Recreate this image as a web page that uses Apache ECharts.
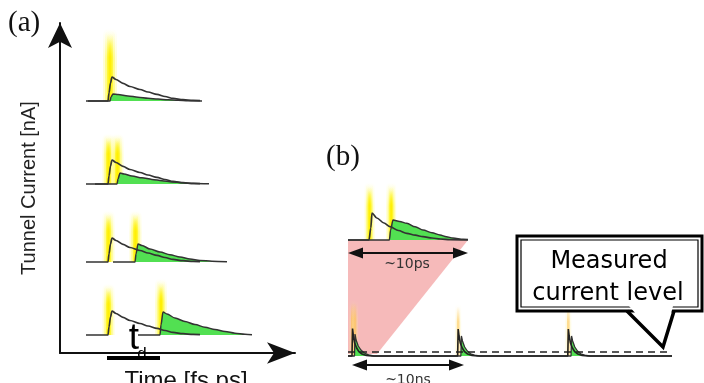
<!DOCTYPE html>
<html><head><meta charset="utf-8">
<script src="https://cdn.jsdelivr.net/npm/echarts@6/dist/echarts.min.js"></script>
<style>html,body{margin:0;padding:0;background:#fff}#c{width:704px;height:383px}</style>
</head><body><div id="c"></div>
<script>
// ---------- data ----------
// Panel (a): time in arbitrary fs units, current in arbitrary nA units
const pulseBlackA = [[-22,0],[0,0],[1,8],[2.5,18],[4,24],[8,21.5],[15,17.6],[22,14.5],[32,11.5],[40,9],[49,6.6],[57,4.5],[65,2.6],[75,1.3],[85,0.6],[92,0.3]];
const greenRow1 = [[-20,0],[2,0],[3,4],[5,7],[10,6.4],[20,5],[30,3.8],[40,2.8],[50,1.9],[60,1.2],[70,0.7],[80,0.3],[94,0.1]];
const greenRow2 = [[-13,0],[9,0],[10,5],[12,11],[16,10],[24,8],[34,6.2],[44,4.6],[54,3.2],[64,2.1],[74,1.2],[86,0.5],[101,0.2]];
const greenRow3 = [[5,0],[27,0],[28,8],[30,18],[34,16.5],[42,13],[52,10],[62,7.3],[72,5],[82,3],[92,1.6],[104,0.7],[119,0.2]];
const greenRow4 = [[30,0],[52,0],[53,10],[55,23],[59,21],[67,17],[77,13.5],[87,10.5],[97,7.8],[107,5.5],[117,3.5],[127,1.8],[137,0.8],[144,0.3]];
const glowRow1 = [[2,73]];
const glowRow2 = [[0.5,51],[9.5,51]];
const glowRow3 = [[0.5,52],[27.5,52]];
const glowRow4 = [[0.5,52],[53,57]];
// Panel (b) inset: time in ps (0..10 ps window)
const insetBlack = [[0,0],[1.75,0],[1.9,12],[2.0,27],[2.4,22],[3.0,17],[3.5,13.3],[4.2,9.5],[4.9,6.7],[5.6,4.8],[6.25,3.3],[7.0,2],[7.7,1],[8.5,0.4],[10,0]];
const insetGreen = [[0,0],[3.45,0],[3.55,10],[3.75,20],[4.3,18.5],[4.9,16.7],[5.6,13.2],[6.25,10],[7.0,7.2],[7.67,5],[8.2,3.3],[8.75,2],[9.6,0.7],[10,0.4]];
const insetGlow = [[1.8,58],[3.6,58]];
// Panel (b) pulse train: time in ns
const trainBlack = [[0,0],[0.37,0],[0.42,27.5],[0.5,20],[0.62,13],[0.8,8],[1.0,4.5],[1.3,2],[1.7,0.6],[2.2,0],
  [10.15,0],[10.2,27],[10.28,20],[10.4,13],[10.58,8],[10.78,4.5],[11.08,2],[11.48,0.6],[12,0],
  [20.35,0],[20.4,27],[20.48,20],[20.6,13],[20.78,8],[20.98,4.5],[21.28,2],[21.68,0.6],[22.2,0],[30,0]];
const trainGreen = [[0,0],[0.6,0],[0.65,22],[0.75,16],[0.95,10],[1.2,6],[1.5,3],[1.9,1.2],[2.4,0],
  [10.45,0],[10.5,20],[10.6,15],[10.8,9],[11.05,5],[11.35,2.2],[11.7,0.8],[12.2,0],
  [20.65,0],[20.7,20],[20.8,15],[21.0,9],[21.25,5],[21.55,2.2],[21.9,0.8],[22.4,0],[30,0]];
const trainGlow = [[0.4,56],[0.65,56],[10.2,52],[20.4,52]];
const measuredLevel = [[0,4],[30,4]];
// texts
const txtA = '(a)', txtB = '(b)';
const yTitle = 'Tunnel Current [nA]';
const xTitle = 'Time [fs,ps]';
const tdMain = 't', tdSub = 'd';
const span1 = '~10ps', span2 = '~10ns';
const calloutLines = ['Measured', 'current level'];

// ---------- chart ----------
const chart = echarts.init(document.getElementById('c'), null, {renderer: 'canvas'});
const INK = '#333';
const GREEN = '#52e052';

function glowRender(w, layersDef) {
  return function (params, api) {
    const x = api.value(0), h = api.value(1);
    const b = api.coord([x, 0]), t = api.coord([x, h]);
    return {type: 'group', children: layersDef.map(function (L) {
      const lw = w * L[0], a = L[1], c = L[2], f = L[3];
      return {type: 'rect', shape: {x: b[0] - lw / 2, y: t[1] + (b[1] - t[1]) * L[4], width: lw, height: (b[1] - t[1]) * (1 - L[4]), r: [lw / 2, lw / 2, 0, 0]},
        style: {fill: {type: 'linear', x: 0, y: 0, x2: 0, y2: 1, colorStops: [
          {offset: 0, color: c + '0)'}, {offset: f, color: c + a + ')'}, {offset: 1, color: c + a + ')'}]}}};
    })};
  };
}
const yellowLayers = [
  [1.0, 0.45, 'rgba(255,252,160,', 0.45, 0],
  [0.7, 0.6, 'rgba(255,250,90,', 0.4, 0.03],
  [0.42, 0.8, 'rgba(255,245,30,', 0.35, 0.08],
  [0.2, 0.9, 'rgba(255,238,0,', 0.3, 0.15]
];
const orangeLayers = [
  [1.0, 0.25, 'rgba(255,240,150,', 0.4, 0],
  [0.45, 0.5, 'rgba(255,190,60,', 0.3, 0.05]
];

const grids = [
  {left: 60, top: 23, width: 235, height: 330},      // panel (a) axes
  {left: 86, top: 26, width: 170, height: 75},
  {left: 86, top: 109, width: 170, height: 75},
  {left: 86, top: 187, width: 170, height: 75},
  {left: 86, top: 260, width: 170, height: 75},
  {left: 348, top: 180, width: 120, height: 60},     // inset
  {left: 348, top: 300, width: 324, height: 56}      // pulse train
];
const xr = [[0, 1], [-22, 148], [-22, 148], [-22, 148], [-22, 148], [0, 10], [0, 30]];
const yr = [[0, 1], [0, 75], [0, 75], [0, 75], [0, 75], [0, 60], [0, 56]];
const xAxis = xr.map(function (r, i) {
  return {type: 'value', gridIndex: i, min: r[0], max: r[1], show: i === 0,
    axisLine: {show: i === 0, onZero: false, symbol: ['none', 'arrow'], symbolSize: [16, 28], lineStyle: {color: '#111', width: 2}},
    axisTick: {show: false}, axisLabel: {show: false}, splitLine: {show: false}};
});
const yAxis = yr.map(function (r, i) {
  return {type: 'value', gridIndex: i, min: r[0], max: r[1], show: i === 0,
    axisLine: {show: i === 0, onZero: false, symbol: ['none', 'arrow'], symbolSize: [18, 25], lineStyle: {color: '#111', width: 2}},
    axisTick: {show: false}, axisLabel: {show: false}, splitLine: {show: false}};
});

const series = [];
function addTrace(gi, black, green, glow, glowW, smooth) {
  series.push({type: 'custom', xAxisIndex: gi, yAxisIndex: gi, z: 1, silent: true,
    renderItem: glowRender(glowW, yellowLayers), data: glow, encode: {x: 0, y: 1}});
  series.push({type: 'line', xAxisIndex: gi, yAxisIndex: gi, z: 2, data: green, showSymbol: false, symbol: 'none',
    smooth: smooth, smoothMonotone: 'x', clip: false, silent: true,
    lineStyle: {color: INK, width: 1.5}, areaStyle: {color: GREEN, opacity: 1, origin: 'start'}});
  series.push({type: 'line', xAxisIndex: gi, yAxisIndex: gi, z: 3, data: black, showSymbol: false, symbol: 'none',
    smooth: smooth, smoothMonotone: 'x', clip: false, silent: true,
    lineStyle: {color: INK, width: 1.7}});
}
addTrace(1, pulseBlackA, greenRow1, glowRow1, 14, 0.3);
addTrace(2, pulseBlackA, greenRow2, glowRow2, 12, 0.3);
addTrace(3, pulseBlackA, greenRow3, glowRow3, 12, 0.3);
addTrace(4, pulseBlackA, greenRow4, glowRow4, 12, 0.3);
addTrace(5, insetBlack, insetGreen, insetGlow, 10, 0.3);
series.push({type: 'custom', xAxisIndex: 6, yAxisIndex: 6, z: 1, silent: true,
  renderItem: glowRender(6, orangeLayers), data: trainGlow, encode: {x: 0, y: 1}});
series.push({type: 'line', xAxisIndex: 6, yAxisIndex: 6, z: 2, data: trainGreen, showSymbol: false, symbol: 'none',
  clip: false, silent: true, lineStyle: {color: INK, width: 1.3}, areaStyle: {color: GREEN, opacity: 1, origin: 'start'}});
series.push({type: 'line', xAxisIndex: 6, yAxisIndex: 6, z: 3, data: trainBlack, showSymbol: false, symbol: 'none',
  clip: false, silent: true, lineStyle: {color: '#222', width: 1.6}});
series.push({type: 'line', xAxisIndex: 6, yAxisIndex: 6, z: 3, data: measuredLevel, showSymbol: false, symbol: 'none',
  clip: false, silent: true, lineStyle: {color: '#222', width: 1.5, type: [7, 5]}});

function txt(x, y, s, size, family, opts) {
  return Object.assign({type: 'text', z: 100, x: x, y: y, style: Object.assign({text: s, fontSize: size, fontFamily: family,
    fill: '#111', align: 'center', verticalAlign: 'middle'}, (opts && opts.style) || {})}, (opts && opts.el) || {});
}
const SERIF = '"Liberation Serif", "Times New Roman", serif';
const SANS = '"Liberation Sans", Arial, sans-serif';
const DJV = '"DejaVu Sans", Verdana, sans-serif';

const graphics = [
  {type: 'polygon', z: 0, shape: {points: [[348, 240], [468, 240], [377, 354], [348, 354]]}, style: {fill: '#f6baba'}},
  txt(8, 23, txtA, 29, SERIF, {style: {align: 'left'}}),
  txt(326, 157, txtB, 29, SERIF, {style: {align: 'left'}}),
  txt(29, 188, yTitle, 20, SANS, {el: {rotation: Math.PI / 2}, style: {fill: '#222'}}),
  txt(186, 381, xTitle, 24, SANS, {style: {fill: '#111'}}),
  txt(134, 339, tdMain, 37, SANS, {style: {fill: '#000'}}),
  txt(142, 354, tdSub, 17, SANS, {style: {fill: '#000'}}),
  {type: 'rect', z: 101, shape: {x: 107, y: 356, width: 53, height: 4}, style: {fill: '#000'}},
  // ~10ps arrow
  {type: 'line', z: 100, shape: {x1: 358, y1: 253, x2: 458, y2: 253}, style: {stroke: '#111', lineWidth: 2}},
  {type: 'polygon', z: 100, shape: {points: [[348, 253], [363, 247.5], [363, 258.5]]}, style: {fill: '#111'}},
  {type: 'polygon', z: 100, shape: {points: [[468, 253], [453, 247.5], [453, 258.5]]}, style: {fill: '#111'}},
  txt(407, 264, span1, 14, DJV, {style: {fill: '#333'}}),
  // ~10ns arrow
  {type: 'line', z: 100, shape: {x1: 362, y1: 365, x2: 454, y2: 365}, style: {stroke: '#111', lineWidth: 2}},
  {type: 'polygon', z: 100, shape: {points: [[352, 365], [367, 359.5], [367, 370.5]]}, style: {fill: '#111'}},
  {type: 'polygon', z: 100, shape: {points: [[464, 365], [449, 359.5], [449, 370.5]]}, style: {fill: '#111'}},
  txt(408, 380, span2, 14, DJV, {style: {fill: '#333'}}),
  // callout
  {type: 'rect', z: 100, shape: {x: 517, y: 236, width: 185, height: 75}, style: {fill: '#fff', stroke: '#000', lineWidth: 3}},
  {type: 'rect', z: 100, shape: {x: 521, y: 240, width: 177, height: 67}, style: {fill: 'none', stroke: '#000', lineWidth: 1.2}},
  {type: 'polygon', z: 101, shape: {points: [[629, 306], [673, 306], [663, 345]]}, style: {fill: '#fff'}},
  {type: 'polyline', z: 102, shape: {points: [[627, 311], [663, 347], [674, 311]]}, style: {stroke: '#000', lineWidth: 3.5, fill: 'none'}},
  txt(609, 262, calloutLines[0], 24, DJV, {style: {fill: '#000'}}),
  txt(608, 294, calloutLines[1], 24, DJV, {style: {fill: '#000'}})
];

chart.setOption({
  animation: false,
  backgroundColor: '#fff',
  grid: grids,
  xAxis: xAxis,
  yAxis: yAxis,
  series: series,
  graphic: {elements: graphics}
});
</script></body></html>
